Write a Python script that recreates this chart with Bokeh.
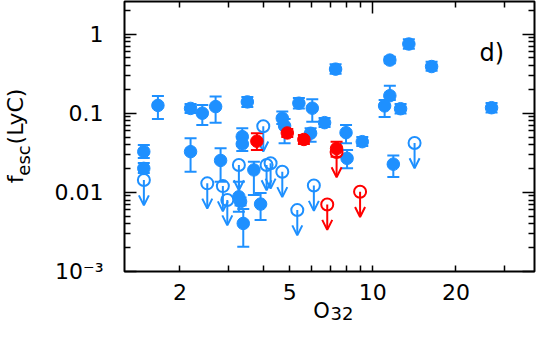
import math
from bokeh.plotting import figure
from bokeh.models import (LogAxis, FixedTicker, Whisker, TeeHead, Arrow, OpenHead,
                          ColumnDataSource, Label, Range1d)
from bokeh.embed import file_html
from bokeh.resources import INLINE

# ---- data (O32, f_esc(LyC)) ----
blue_x = [1.48, 1.48, 1.665, 2.186, 2.411, 2.694, 2.186, 2.808, 3.51, 3.365, 3.365,
          3.271, 3.317, 3.393, 3.707, 3.92, 4.698, 4.789, 5.395, 6.033, 6.685, 5.949,
          7.995, 9.155, 8.064, 7.328, 11.52, 13.5, 16.32, 26.91, 11.52, 11.03, 12.6, 11.86]
blue_y = [0.0327, 0.0201, 0.1255, 0.115, 0.1, 0.1212, 0.0327, 0.0253, 0.139, 0.0506, 0.0409,
          0.0088, 0.00765, 0.00405, 0.0192, 0.00711, 0.0864, 0.0691, 0.1339, 0.1157, 0.076, 0.0558,
          0.0568, 0.0437, 0.0269, 0.3606, 0.469, 0.749, 0.389, 0.1174, 0.1665, 0.1237, 0.114, 0.0227]
blue_lo = [0.0272, 0.0176, 0.0847, 0.1009, 0.0711, 0.076, 0.0182, 0.0136, 0.1202, 0.0386, 0.0333,
           0.00568, 0.0068, 0.00205, 0.00924, 0.00446, 0.0732, 0.0417, 0.115, 0.0783, 0.0671, 0.0437,
           0.0417, 0.0386, 0.0201, 0.3144, 0.427, 0.652, 0.343, 0.1023, 0.1474, 0.0898, 0.0994, 0.0156]
blue_hi = [0.0397, 0.0235, 0.1656, 0.1312, 0.1274, 0.1622, 0.0483, 0.0361, 0.1608, 0.0646, 0.0501,
           0.0136, 0.0086, 0.00615, 0.0244, 0.0098, 0.1048, 0.0847, 0.1562, 0.1504, 0.0872, 0.0646,
           0.0711, 0.0501, 0.0343, 0.415, 0.516, 0.859, 0.446, 0.135, 0.2216, 0.1474, 0.1312, 0.0292]

red_x = [3.801, 4.898, 5.625, 7.389]
red_y = [0.0443, 0.0563, 0.0466, 0.0358]
red_lo = [0.0343, 0.0501, 0.0409, 0.0282]
red_hi = [0.0558, 0.0633, 0.0531, 0.0437]

blue_lim_x = [1.481, 2.513, 2.862, 2.970, 3.271, 4.009, 4.121, 4.261, 4.698, 5.324, 6.113, 14.16]
blue_lim_y = [0.0143, 0.0130, 0.0120, 0.00799, 0.0222, 0.0685, 0.0222, 0.0233, 0.0182, 0.00597, 0.0122, 0.0421]

red_lim_x = [6.835, 8.988, 7.389]
red_lim_y = [0.00701, 0.0102, 0.0324]

x_tick_values = [2, 3, 4, 5, 6, 7, 8, 9, 10, 20, 30]
x_tick_labels = ["2", "", "", "5", "", "", "", "", "10", "20", ""]
y_tick_values = [0.001, 0.01, 0.1, 1]
y_tick_labels = ["10\u207b\u00b3", "0.01", "0.1", "1"]

BLUE = "#1e90ff"
RED = "#ff0000"
FONT = "DejaVu Sans"
ARROW_DEX = 0.32  # arrow length in decades (style)
X0, X1 = 1.26, 38.5
Y0, Y1 = 0.001, 2.58

p = figure(width=538, height=350, x_axis_type="log", y_axis_type="log",
           x_range=Range1d(X0, X1), y_range=Range1d(Y0, Y1),
           output_backend="svg", toolbar_location=None,
           min_border_left=123, min_border_right=4, min_border_top=1, min_border_bottom=79)
p.grid.visible = False
p.outline_line_color = "black"
p.outline_line_width = 2
p.background_fill_color = "white"
p.border_fill_color = "white"

y_minor = [m * 10.0 ** e for e in (-3, -2, -1, 0) for m in range(2, 10) if m * 10.0 ** e < Y1]

def hide_labels(ax):
    ax.major_label_text_font_size = "1px"
    ax.major_label_text_alpha = 0
    ax.major_label_standoff = 0

def style_ticks(ax, major_in, minor_in):
    ax.axis_line_color = None
    ax.major_tick_in = major_in
    ax.major_tick_out = 0
    ax.minor_tick_in = minor_in
    ax.minor_tick_out = 0
    ax.major_tick_line_width = 1.5
    ax.minor_tick_line_width = 1.5

yl = p.yaxis[0]
yl.ticker = FixedTicker(ticks=y_tick_values, minor_ticks=y_minor)
style_ticks(yl, 12, 6)
yl.major_label_overrides = dict(zip(y_tick_values, y_tick_labels))
yl.major_label_text_font = FONT
yl.major_label_text_font_size = "22px"
yl.major_label_text_color = "black"
yl.major_label_standoff = 21

yr = LogAxis(ticker=FixedTicker(ticks=y_tick_values, minor_ticks=y_minor))
style_ticks(yr, 12, 6)
hide_labels(yr)
p.add_layout(yr, "right")

xb = p.xaxis[0]
xb.ticker = FixedTicker(ticks=x_tick_values, minor_ticks=[])
style_ticks(xb, 6, 0)
xb.major_label_overrides = dict(zip(x_tick_values, x_tick_labels))
xb.major_label_text_font = FONT
xb.major_label_text_font_size = "22px"
xb.major_label_text_color = "black"
xb.major_label_standoff = 12

xt = LogAxis(ticker=FixedTicker(ticks=[10], minor_ticks=[2, 3, 4, 5, 6, 7, 8, 9, 20, 30]))
style_ticks(xt, 12, 6)
hide_labels(xt)
p.add_layout(xt, "above")

# ---- axis titles: label-only axes stacked outside the frame ----
def text_axis(side, positions, texts, size, standoff, orientation):
    ax = LogAxis(ticker=FixedTicker(ticks=positions, minor_ticks=[]))
    ax.axis_line_color = None
    ax.major_tick_line_color = None
    ax.minor_tick_line_color = None
    ax.major_tick_in = 0
    ax.major_tick_out = 0
    ax.minor_tick_in = 0
    ax.minor_tick_out = 0
    ax.major_label_overrides = dict(zip(positions, texts))
    ax.major_label_text_font = FONT
    ax.major_label_text_font_size = size
    ax.major_label_text_color = "black"
    ax.major_label_standoff = standoff
    ax.major_label_orientation = orientation
    p.add_layout(ax, side)

# y title  f_esc(LyC)  (positions along the axis, in f_esc units)
text_axis("left", [0.0253], ["esc"], "18px", 17, "vertical")
text_axis("left", [0.01454, 0.0909], ["f", "(LyC)"], "22px", -18, "vertical")
# x title  O_32  (positions along the axis, in O32 units)
text_axis("below", [6.52], ["O"], "21px", -4, "horizontal")
text_axis("below", [7.73], ["32"], "18px", -19, "horizontal")

# ---- upper limits (arrows + open circles) ----
def limits(xs, ys, color):
    src = ColumnDataSource(dict(x=xs, y=ys, ye=[v * 10 ** (-ARROW_DEX) for v in ys]))
    arr = Arrow(x_start="x", y_start="y", x_end="x", y_end="ye", source=src,
                line_color=color, line_width=2, level="underlay",
                end=OpenHead(size=10, line_color=color, line_width=2))
    p.add_layout(arr)
    p.scatter("x", "y", source=src, size=12, fill_color=None, line_color=color, line_width=2)

def detections(xs, ys, lo, hi, color):
    src = ColumnDataSource(dict(x=xs, y=ys, lo=lo, hi=hi))
    w = Whisker(base="x", lower="lo", upper="hi", source=src, dimension="height",
                line_color=color, line_width=2,
                upper_head=TeeHead(size=12, line_color=color, line_width=2),
                lower_head=TeeHead(size=12, line_color=color, line_width=2))
    p.add_layout(w)
    p.scatter("x", "y", source=src, size=12.5, fill_color=color, line_color=color)

limits(blue_lim_x, blue_lim_y, BLUE)
detections(blue_x, blue_y, blue_lo, blue_hi, BLUE)
limits(red_lim_x, red_lim_y, RED)
detections(red_x, red_y, red_lo, red_hi, RED)

p.add_layout(Label(x=355, y=219, x_units="screen", y_units="screen", text="d)",
                   text_font=FONT, text_font_size="24px", text_color="black",
                   text_align="left", text_baseline="alphabetic"))

open("out.html", "w").write(file_html(p, INLINE))
